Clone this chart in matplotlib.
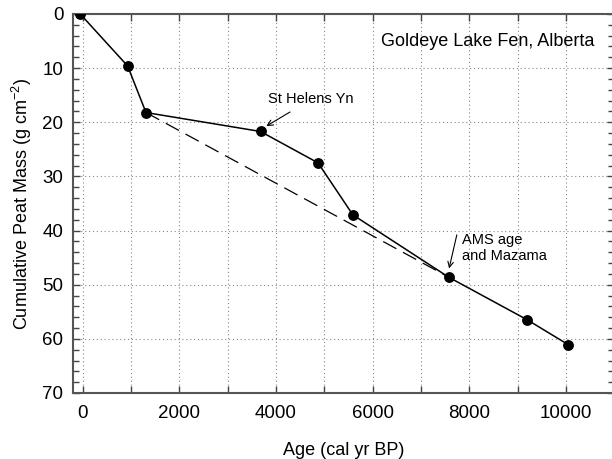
import matplotlib.pyplot as plt
import matplotlib as mpl
from matplotlib.ticker import MultipleLocator

mpl.rcParams.update({'font.family': ['Liberation Sans', 'DejaVu Sans'],
                     'mathtext.fontset': 'custom',
                     'mathtext.rm': 'Liberation Sans',
                     'mathtext.it': 'Liberation Sans'})

# 累积泥炭质量与年龄
age = [-50, 930, 1310, 3680, 4870, 5590, 7570, 9200, 10050]
mass = [0.0, 9.6, 18.2, 21.7, 27.5, 37.1, 48.6, 56.5, 61.1]

# 虚线连接的两个点（第3点与第7点）
dash_idx = [2, 6]

x_ticks = [0, 2000, 4000, 6000, 8000, 10000]
y_ticks = [0, 10, 20, 30, 40, 50, 60, 70]

fig = plt.figure(figsize=(6.12, 4.59), dpi=100)
ax = fig.add_axes([73 / 612, 1 - 393 / 459, (614.4 - 73) / 612, (393 - 14) / 459])

ax.plot([age[i] for i in dash_idx], [mass[i] for i in dash_idx], color='black',
        lw=0.9, ls=(0, (12, 6)), zorder=3)
ax.plot(age, mass, color='black', lw=1.1, marker='o', markersize=6.8, zorder=4)

ax.set_xlim(-200, 11000)
ax.set_ylim(70, 0)
ax.set_xticks(x_ticks)
ax.set_yticks(y_ticks)
ax.xaxis.set_minor_locator(MultipleLocator(1000))
ax.yaxis.set_minor_locator(MultipleLocator(2))

ax.grid(True, which='major', axis='y', color='#888888', ls=(0, (1, 2.5)), lw=0.8)
ax.grid(True, which='both', axis='x', color='#888888', ls=(0, (1, 2.5)), lw=0.8)

ax.tick_params(which='both', direction='in', top=True, right=True, colors='#444444',
               labelcolor='black', labelsize=13.5)
ax.tick_params(which='major', length=5, width=1)
ax.tick_params(which='minor', length=4, width=1)
ax.tick_params(axis='x', which='minor', length=5)
ax.tick_params(axis='x', pad=9)
ax.tick_params(axis='y', pad=7)
for s in ax.spines.values():
    s.set_color('#555555')
    s.set_linewidth(1.5)

ax.set_xlabel('Age (cal yr BP)', fontsize=13, labelpad=14)
ax.set_ylabel('Cumulative Peat Mass (g cm$^{-2}$)', fontsize=13, labelpad=6)

ax.text(10580, 5.1, 'Goldeye Lake Fen, Alberta', fontsize=13, ha='right', va='center')

ax.text(3830, 15.7, 'St Helens Yn', fontsize=10.5, ha='left', va='center')
ax.annotate('', xy=(3800, 20.7), xytext=(4290, 18.1),
            arrowprops=dict(arrowstyle='->', color='black', lw=0.8,
                            shrinkA=0, shrinkB=0))
ax.text(7850, 43.2, 'AMS age\nand Mazama', fontsize=10.5, ha='left', va='center',
        linespacing=1.15)
ax.annotate('', xy=(7580, 47.0), xytext=(7740, 40.8),
            arrowprops=dict(arrowstyle='->', color='black', lw=0.8,
                            shrinkA=0, shrinkB=0))

plt.savefig('out.png', dpi=100)
